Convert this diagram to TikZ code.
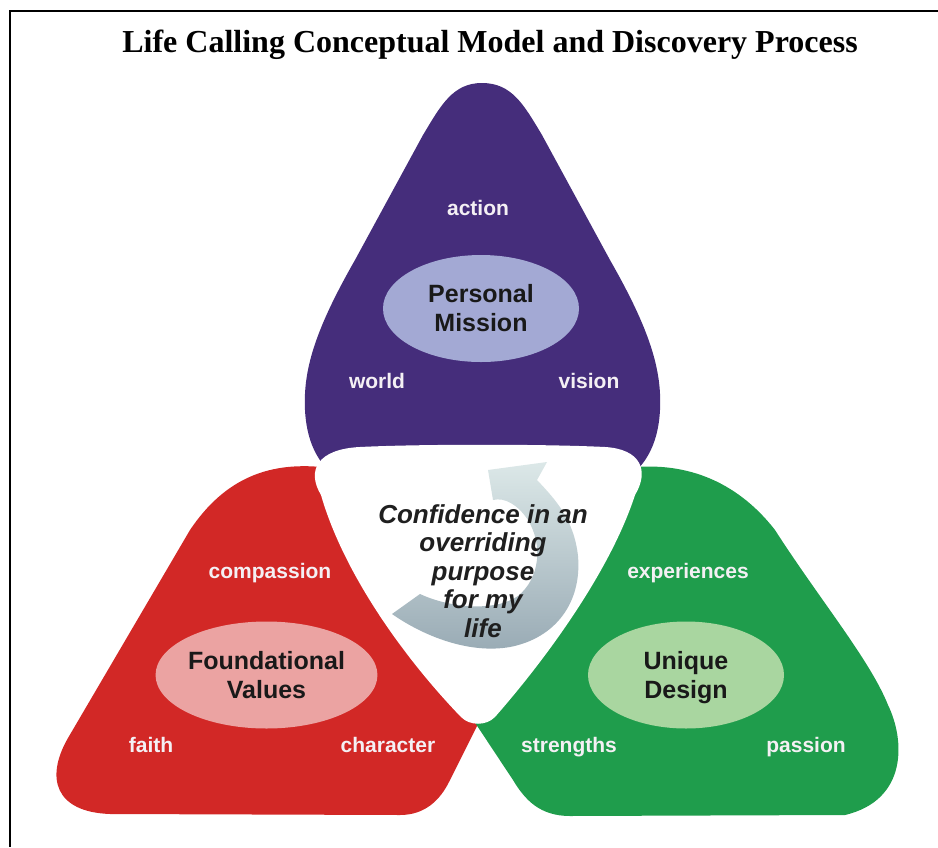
\documentclass[tikz,border=0pt]{standalone}
\usepackage{fontspec}
\setmainfont{Liberation Serif}
\setsansfont{Liberation Sans}
\usetikzlibrary{shapes.geometric}
\definecolor{missionpurple}{HTML}{452D7B}
\definecolor{valuesred}{HTML}{D22826}
\definecolor{designgreen}{HTML}{1F9D4C}
\definecolor{missionlight}{HTML}{A3A9D4}
\definecolor{valueslight}{HTML}{EBA3A2}
\definecolor{designlight}{HTML}{A9D6A0}
\definecolor{arrowdark}{HTML}{98AAB4}
\definecolor{arrowlight}{HTML}{DCE8E8}
\definecolor{wordwhite}{HTML}{F4F0F4}
\begin{document}
\begin{tikzpicture}[x=1pt,y=-1pt,
  word/.style={text=wordwhite, font=\sffamily\bfseries\fontsize{21}{24}\selectfont, inner sep=0pt, anchor=base},
  core/.style={ellipse, inner sep=0pt, minimum width=196pt, minimum height=107pt,
    align=center, text=black!90, font=\sffamily\bfseries\fontsize{25}{29}\selectfont},
]
\useasboundingbox (0,0) rectangle (938,847);

% frame
\draw[line width=2pt] (938,11) -- (10,11) -- (10,847);

% title
\node[anchor=base, inner sep=0pt, font=\bfseries\fontsize{32}{36}\selectfont] (title) at (490,52)
  {Life Calling Conceptual Model and Discovery Process};

% red lobe (Foundational Values)
\fill[valuesred] (330,468) .. controls (270,460) and (225,478) .. (190,530)
  -- (68,738) .. controls (45,778) and (55,812) .. (110,814)
  -- (400,815) .. controls (425,815) and (440,800) .. (449,782)
  -- (490,700) -- (420,520) -- cycle;

% green lobe (Unique Design)
\fill[designgreen] (626,468) .. controls (690,460) and (740,485) .. (775,530)
  .. controls (820,600) and (870,660) .. (888,705)
  .. controls (905,740) and (908,800) .. (845,815)
  -- (570,816) .. controls (540,816) and (525,800) .. (513,780)
  -- (462,703) -- (540,520) -- cycle;

% purple lobe (Personal Mission)
\fill[missionpurple] (482,83) .. controls (512,83) and (524,105) .. (542,135)
  -- (610,260) .. controls (650,330) and (662,370) .. (660,410)
  .. controls (658,450) and (640,480) .. (600,490)
  -- (365,490) .. controls (325,480) and (307,450) .. (305,410)
  .. controls (303,370) and (315,330) .. (355,260)
  -- (423,135) .. controls (441,105) and (453,83) .. (482,83) -- cycle;

% white centre
\fill[white] (360,447) .. controls (420,444) and (545,444) .. (605,447)
  .. controls (640,449) and (650,470) .. (635,495)
  .. controls (610,572) and (545,660) .. (495,717)
  .. controls (486,726) and (470,726) .. (461,717)
  .. controls (406,660) and (344,575) .. (321,495)
  .. controls (306,470) and (318,449) .. (360,447) -- cycle;

% curved arrow
\shade[top color=arrowlight, bottom color=arrowdark]
  (488,470) -- (547,462) -- (537,480)
  .. controls (556,500) and (574,520) .. (578,556)
  .. controls (582,602) and (556,638) .. (510,647)
  .. controls (470,654) and (425,637) .. (392,614)
  -- (420,594)
  .. controls (450,608) and (495,612) .. (518,596)
  .. controls (540,578) and (543,545) .. (528,520)
  .. controls (518,505) and (505,497) .. (493,500) -- cycle;

% centre statement
\node[align=center, inner sep=0pt, text=black!88,
  font=\sffamily\bfseries\itshape\fontsize{26}{28.5}\selectfont] (purpose) at (483,571)
  {Confidence in an\\overriding\\purpose\\for my\\life};

% core ellipses
\node[core, fill=missionlight] (mission) at (481,308.5) {Personal\\Mission};
\node[core, fill=valueslight] (values) at (266.5,675) {Foundational\\Values};
\node[core, fill=designlight, text depth=0pt] (design) at (686,675) {Unique\\Design};

% surrounding words
\node[word] (action) at (478,215) {action};
\node[word] (world) at (377,388) {world};
\node[word] (vision) at (589,388) {vision};
\node[word] (compassion) at (270,578) {compassion};
\node[word] (faith) at (151,752) {faith};
\node[word] (character) at (388,752) {character};
\node[word] (experiences) at (688,578) {experiences};
\node[word] (strengths) at (569,752) {strengths};
\node[word] (passion) at (806,752) {passion};
\end{tikzpicture}
\end{document}
